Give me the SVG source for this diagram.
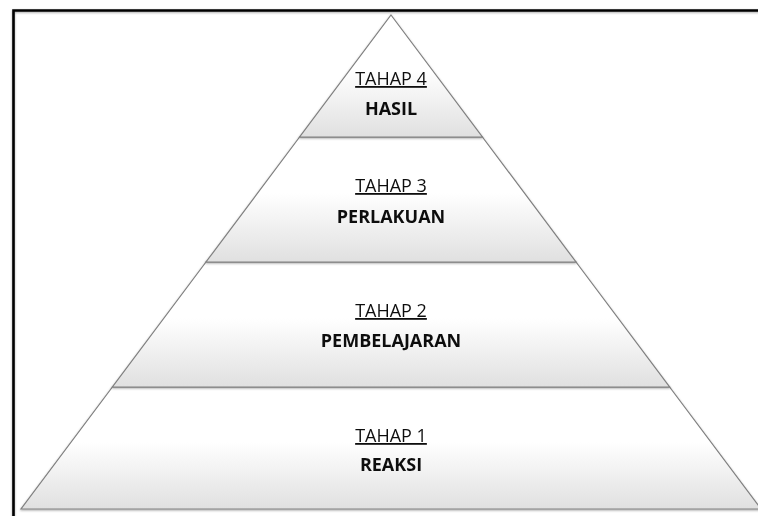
<svg xmlns="http://www.w3.org/2000/svg" width="758" height="516" viewBox="0 0 758 516">
  <defs>
    <linearGradient id="tierFill" x1="0" y1="0" x2="0" y2="1">
      <stop offset="0" stop-color="#ffffff"/>
      <stop offset="0.45" stop-color="#ffffff"/>
      <stop offset="1" stop-color="#e0e0e0"/>
    </linearGradient>
    <filter id="shadow" x="-5%" y="-5%" width="110%" height="110%">
      <feDropShadow dx="0" dy="1" stdDeviation="1" flood-color="#000" flood-opacity="0.35"/>
    </filter>
  </defs>
  <style>
    .tier { fill: url(#tierFill); stroke: #808080; stroke-width: 1.2; stroke-linejoin: miter; }
    .lbl { font-family: "Open Sans", "Liberation Sans", sans-serif; font-size: 18px; fill: #111; text-anchor: middle; text-decoration: underline; }
    .name { font-family: "Open Sans", "Liberation Sans", sans-serif; font-size: 18px; font-weight: bold; fill: #111; text-anchor: middle; }
  </style>
  <rect x="0" y="0" width="758" height="516" fill="#ffffff"/>
  <path d="M13.5,520 V10.5 H770" fill="none" stroke="#000" stroke-width="2.6" filter="url(#shadow)"/>
  <g id="tier1" filter="url(#shadow)">
    <polygon class="tier" points="112.4,387 669.6,387 761,509 21,509"/>
    <text class="lbl" x="391" y="442">TAHAP 1</text>
    <text class="name" x="391" y="471">REAKSI</text>
  </g>
  <g id="tier2" filter="url(#shadow)">
    <polygon class="tier" points="206,262 576,262 669.6,387 112.4,387"/>
    <text class="lbl" x="391" y="317">TAHAP 2</text>
    <text class="name" x="391" y="347">PEMBELAJARAN</text>
  </g>
  <g id="tier3" filter="url(#shadow)">
    <polygon class="tier" points="299.6,137 482.4,137 576,262 206,262"/>
    <text class="lbl" x="391" y="192">TAHAP 3</text>
    <text class="name" x="391" y="223">PERLAKUAN</text>
  </g>
  <g id="tier4" filter="url(#shadow)">
    <polygon class="tier" points="391,15 482.4,137 299.6,137"/>
    <text class="lbl" x="391" y="85">TAHAP 4</text>
    <text class="name" x="391" y="115">HASIL</text>
  </g>
  <g id="connectors"/>
</svg>
